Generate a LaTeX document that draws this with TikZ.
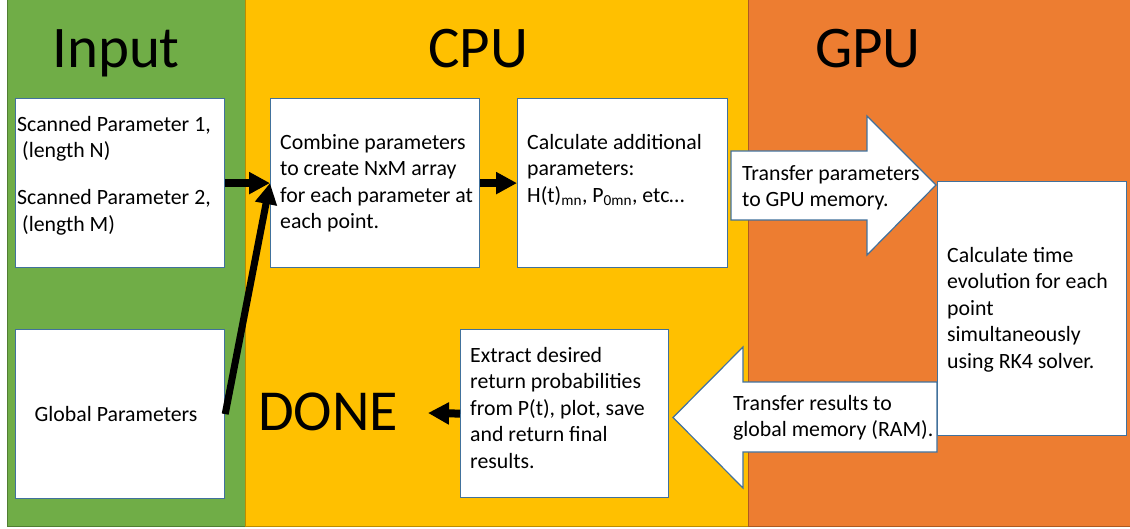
\documentclass[tikz,border=0pt]{standalone}
\usepackage{fontspec}
\setmainfont{Carlito}
\usetikzlibrary{arrows.meta}
\definecolor{ingreen}{HTML}{70AD47}
\definecolor{ingreenD}{HTML}{507E32}
\definecolor{cpuyel}{HTML}{FFC000}
\definecolor{cpuyelD}{HTML}{BC8C00}
\definecolor{gpuor}{HTML}{ED7D31}
\definecolor{gpuorD}{HTML}{AE5A21}
\definecolor{boxblue}{HTML}{41719C}
\begin{document}
\begin{tikzpicture}[x=1pt,y=-1pt,
  box/.style={draw=boxblue, line width=1.2pt, fill=white, anchor=north west, inner sep=0pt},
  txt/.style={font=\fontsize{21.8}{26.5}\selectfont, align=left, inner sep=0pt, anchor=north west},
  ttl/.style={font=\fontsize{59}{65}\selectfont, inner sep=0pt},
  blockarrow/.style={draw=boxblue, line width=1.2pt, fill=white, line join=miter},
  link/.style={line width=8pt, -{Triangle[length=21pt,width=21pt]}},
  panel/.style={line width=1pt}]
\useasboundingbox (0,0) rectangle (1130,529);
\fill[white] (0,0) rectangle (1130,529);
% panels
\draw[panel, fill=ingreen, draw=ingreenD] (7,-2) rectangle (245,526);
\draw[panel, fill=cpuyel, draw=cpuyelD] (245,-2) rectangle (748,526);
\draw[panel, fill=gpuor, draw=gpuorD] (748,-2) rectangle (1132,526);
% titles
\node[ttl, anchor=base west] (tin) at (52,68) {Input};
\node[ttl, anchor=base] (tcpu) at (478,68) {CPU};
\node[ttl, anchor=base] (tgpu) at (868,68) {GPU};
% block arrows
\draw[blockarrow] (731,151) -- (867,151) -- (867,116) -- (936,185) -- (867,255) -- (867,220) -- (731,220) -- cycle;
\draw[blockarrow] (937,382) -- (743,382) -- (743,347) -- (673,417.5) -- (743,488) -- (743,452) -- (937,452) -- cycle;
% boxes
\node[box, minimum width=209pt, minimum height=169pt] (scan) at (15,98) {};
\node[box, minimum width=209pt, minimum height=169pt, font=\fontsize{21.8}{26.5}\selectfont] (glob) at (15,329) {Global Parameters\hspace*{8pt}};
\node[box, minimum width=209pt, minimum height=169pt] (comb) at (270,98) {};
\node[box, minimum width=210pt, minimum height=169pt] (calc) at (517,98) {};
\node[box, minimum width=208pt, minimum height=168pt] (ext) at (460,329) {};
\node[box, minimum width=189pt, minimum height=254pt] (gpu) at (937,181) {};
% texts
\node[txt] (tscan) at (17,116) {Scanned Parameter 1,\\\hspace{5pt}(length N)\\[20.5pt]Scanned Parameter 2,\\\hspace{5pt}(length M)};
\node[txt] (tcomb) at (280,134) {Combine parameters\\to create NxM array\\for each parameter at\\each point.};
\node[txt] (tcalc) at (527,134) {Calculate additional\\parameters:\\H(t)\textsubscript{mn}, P\textsubscript{0mn}, etc\dots};
\node[txt] (ttrans) at (742,165) {Transfer parameters\\to GPU memory.};
\node[txt] (tgpuc) at (947,247) {Calculate time\\evolution for each\\point\\simultaneously\\using RK4 solver.};
\node[txt] (tres) at (733,395) {Transfer results to\\global memory (RAM).};
\node[txt] (text) at (470,347) {Extract desired\\return probabilities\\from P(t), plot, save\\and return final\\results.};
\node[font=\fontsize{58}{64}\selectfont, inner sep=0pt, anchor=base west] (done) at (258,430) {DONE};
% connectors
\draw[link] (scan.east) -- (comb.west);
\draw[link, line width=7pt] (glob.east) -- (comb.west);
\draw[link] (comb.east) -- (calc.west);
\coordinate (donetip) at (428,413);
\draw[link] (ext.west) -- (donetip);
\end{tikzpicture}
\end{document}
